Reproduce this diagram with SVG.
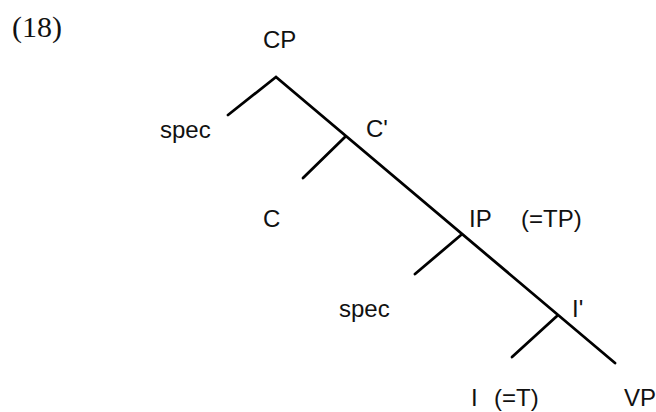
<svg xmlns="http://www.w3.org/2000/svg" width="656" height="412" viewBox="0 0 656 412">
<style>
.l{font-family:"Liberation Sans",Arial,sans-serif;font-size:24px;fill:#111}
.n{font-family:"Liberation Serif","Times New Roman",serif;font-size:30px;fill:#111}
.e{stroke:#000;stroke-width:2.8;fill:none;stroke-linecap:round}
</style>
<rect width="656" height="412" fill="#fff"/>
<text class="n" x="12" y="37">(18)</text>
<g id="connectors">
<path class="e" d="M228,115 L276,77 L615,363"/>
<path class="e" d="M345,137 L303,178"/>
<path class="e" d="M461,235 L415,274"/>
<path class="e" d="M557,316 L512,357"/>
</g>
<g id="CP"><text class="l" x="263" y="48">CP</text></g>
<g id="spec1"><text class="l" x="160" y="138">spec</text></g>
<g id="Cbar"><text class="l" x="366" y="137">C'</text></g>
<g id="C"><text class="l" x="263" y="227">C</text></g>
<g id="IP"><text class="l" x="469" y="227">IP</text><text class="l" x="521" y="227">(=TP)</text></g>
<g id="spec2"><text class="l" x="339" y="317">spec</text></g>
<g id="Ibar"><text class="l" x="572" y="317">I'</text></g>
<g id="I"><text class="l" x="471" y="406">I</text><text class="l" x="494" y="406">(=T)</text></g>
<g id="VP"><text class="l" x="624" y="406">VP</text></g>
</svg>
